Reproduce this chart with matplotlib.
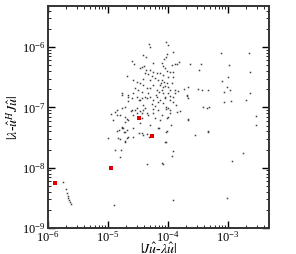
import matplotlib
matplotlib.use("Agg")
import matplotlib.pyplot as plt
import numpy as np

plt.rcParams['mathtext.fontset'] = 'stix'
plt.rcParams['font.family'] = 'Liberation Serif'

# log10 of |J u - lambda u| (x) and |lambda - u^H J u| (y), black points
log_res = [
    -5.75, -5.70, -5.68, -5.67, -5.67, -5.65, -5.63, -5.62,
    -4.90, -3.92, -3.02,
    -4.88, -4.78, -4.80, -4.83, -4.85, -4.68, -4.67, -4.72, -4.58, -4.48, -4.42, -4.35, -4.77, -4.73,
    -4.15, -4.02, -3.95, -4.03, -3.92, -3.93, -4.10, -4.08, -3.55, -3.33, -2.93, -2.75, -2.53, -2.53,
    -3.12, -2.65, -2.98, -2.63, -3.00, -3.10, -3.02, -2.97, -3.07, -2.63, -2.95, -2.70, -3.07,
    -3.42, -3.35, -3.32, -3.67, -3.50, -3.43, -3.33, -3.73, -3.67, -3.68, -3.67, -3.63, -3.45,
    -3.48, -3.82, -3.85, -3.92, -4.03, -4.00, -4.00, -3.85, -3.80, -3.88, -3.83, -3.92, -3.97,
    -4.05, -4.03, -4.00, -3.97,
    -4.02, -4.03, -4.07, -3.88, -3.93, -4.10, -4.08, -4.05, -4.02, -3.97, -3.92, -4.13, -4.08,
    -4.00, -3.92, -4.10, -4.07, -4.12, -4.02, -3.93, -4.00, -4.10, -3.88,
    -4.05, -3.97, -3.68, -4.08, -3.92, -3.87, -4.03, -3.97, -4.02, -3.67, -4.03, -3.33, -4.05,
    -4.60, -4.42, -4.37, -4.43, -4.37, -4.38, -4.68, -4.58, -4.52, -4.47, -4.42, -4.55, -4.50,
    -4.43, -4.35, -4.77, -4.67, -4.60, -4.52, -4.47, -4.38, -4.72, -4.60, -4.52, -4.42, -4.88,
    -4.80, -4.58, -4.35, -4.67,
    -4.32, -4.30, -4.25, -4.30, -4.47, -4.25, -4.33, -4.18, -4.27, -4.30, -4.22, -4.25, -4.30,
    -4.18, -4.33, -4.57, -4.40, -4.42, -4.77, -4.58,
    -4.67, -4.48, -4.43, -4.35, -4.30, -4.25, -4.18, -4.17, -4.67, -4.27, -4.42, -4.38, -4.25,
    -4.85, -4.77, -4.62, -4.55, -4.52, -4.47, -4.43, -4.95, -4.85, -4.72, -4.68, -4.43, -4.33,
    -4.25, -4.92, -4.72, -4.47, -4.77, -4.82, -4.75, -4.72, -4.58, -5.00, -4.80, -4.68, -4.43,
    -4.35, -4.17, -4.72, -4.32,
    -4.17, -4.13, -4.08, -4.05, -4.15, -4.20, -4.13, -4.17, -4.10, -4.22, -4.13, -4.30, -4.22,
    -4.00, -3.97, -4.08,
]
log_err = [
    -8.24, -8.35, -8.42, -8.47, -8.50, -8.53, -8.57, -8.60,
    -8.62, -8.53, -8.50,
    -7.71, -7.71, -7.83, -7.51, -7.39, -7.38, -7.49, -7.57, -7.49, -7.43, -7.46, -7.94, -7.34, -7.41,
    -7.34, -7.39, -7.29, -7.57, -7.72, -7.81, -7.92, -7.94, -7.46, -7.39, -7.89, -7.76, -7.29, -7.14,
    -6.10, -6.10, -6.30, -6.41, -6.50, -6.56, -6.66, -6.71, -6.75, -6.76, -6.90, -6.88, -6.91,
    -7.00, -7.01, -7.00, -7.19, -6.70, -6.71, -6.71, -6.70, -6.66, -6.81, -6.85, -6.28, -6.28,
    -6.38, -6.25, -6.28, -6.08, -5.92, -5.97, -7.16, -7.08, -7.06, -6.71, -6.73, -6.83, -6.88,
    -6.83, -7.00, -7.01, -7.09,
    -6.11, -6.17, -6.20, -6.28, -6.30, -6.26, -6.31, -6.35, -6.40, -6.41, -6.41, -6.43, -6.46,
    -6.50, -6.50, -6.55, -6.58, -6.60, -6.60, -6.60, -6.66, -6.71, -6.76,
    -6.85, -6.81, -6.80, -6.93, -6.91, -6.96, -7.03, -7.04, -7.18, -7.21, -7.41, -7.41, -7.57,
    -6.23, -6.13, -6.17, -6.33, -6.38, -6.43, -6.48, -6.55, -6.58, -6.60, -6.63, -6.68, -6.71,
    -6.75, -6.68, -6.80, -6.80, -6.85, -6.83, -6.88, -6.83, -7.00, -7.04, -7.01, -7.04, -7.08,
    -7.13, -7.13, -7.09, -7.21,
    -5.95, -6.00, -6.26, -6.38, -6.35, -6.41, -6.45, -6.43, -6.48, -6.55, -6.51, -6.63, -6.68,
    -6.71, -6.76, -6.28, -6.31, -6.53, -6.76, -6.76,
    -6.83, -6.88, -6.85, -6.85, -6.83, -6.88, -6.83, -6.91, -6.90, -6.95, -6.96, -7.01, -7.03,
    -7.04, -7.01, -7.06, -7.04, -7.09, -7.06, -7.09, -7.11, -7.13, -7.16, -7.19, -7.18, -7.13,
    -7.09, -7.21, -7.24, -7.26, -7.33, -7.38, -7.34, -7.41, -7.34, -7.51, -7.53, -7.51, -7.43,
    -7.44, -7.34, -7.56, -7.49,
    -6.55, -6.63, -6.66, -6.65, -6.75, -6.80, -6.88, -7.04, -7.13, -7.18, -7.21, -7.29, -6.98,
    -6.76, -6.71, -6.76,
]

# highlighted (red) points
red_res = [-5.88, -4.95, -4.49, -4.26]
red_err = [-8.25, -8.00, -7.17, -7.47]

fig = plt.figure(figsize=(2.96, 2.54), dpi=100)
ax = fig.add_axes([0.162, 0.1024, 0.747, 0.874])

ax.plot(10.0 ** np.array(log_res), 10.0 ** np.array(log_err), 's', ms=1.1,
        color='#404040', mew=0, linestyle='none')
ax.plot(10.0 ** np.array(red_res), 10.0 ** np.array(red_err), 's', ms=2.6,
        color='#e00000', mew=0, linestyle='none')

ax.set_xscale('log')
ax.set_yscale('log')
ax.set_xlim(1e-6, 10 ** -2.317)
ax.set_ylim(1e-9, 10 ** -5.318)

ax.tick_params(which='both', direction='in', top=True, right=True, labelsize=9)
ax.tick_params(axis='x', pad=1.5)
ax.tick_params(axis='y', pad=2)
ax.tick_params(which='major', length=5, width=1.0)
ax.tick_params(which='minor', length=2.5, width=0.6)
for s in ax.spines.values():
    s.set_linewidth(1.4)
    s.set_color('#333333')

ax.set_xlabel(r'$|J\hat{u}$-$\lambda\hat{u}|$', fontsize=10, labelpad=-2)
ax.set_ylabel(r'$|\lambda$-$\hat{u}^H J\hat{u}|$', fontsize=10, labelpad=0)

fig.savefig('out.png', dpi=100)
